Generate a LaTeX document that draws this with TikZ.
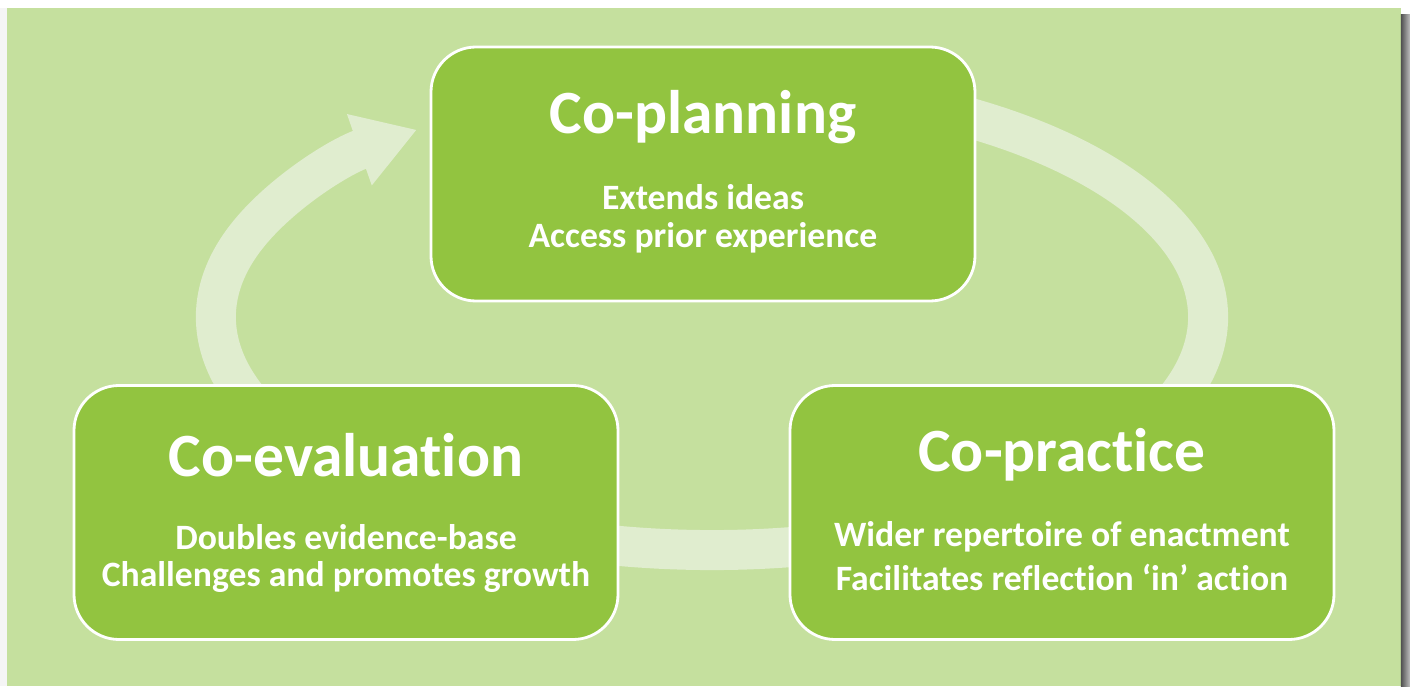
\documentclass[tikz,border=0pt]{standalone}
\usepackage{fontspec}
\setmainfont{Carlito}[Ligatures={NoCommon}]
\usetikzlibrary{arrows.meta}

\definecolor{leaf}{RGB}{146,196,64}
\definecolor{meadow}{RGB}{197,224,158}
\definecolor{mist}{RGB}{224,237,207}

\begin{document}
\begin{tikzpicture}[%
      phase/.style={draw=white, line width=0.8pt, fill=leaf, rounded corners=0.45cm,
                    minimum width=5.44cm, minimum height=2.54cm},
      title/.style={text=white, font=\bfseries\fontsize{17.5}{19}\selectfont},
      point/.style={text=white, font=\bfseries\fontsize{10.15}{12}\selectfont},
      ring/.style={color=mist, line width=0.4cm, -{Triangle[width=0.71cm,length=0.61cm]}},
      ]
      \useasboundingbox (0,0) rectangle (14.10,6.86);
      \fill [white] (0,0) rectangle (14.10,6.86);
      \fill [black!4] (0,0) rectangle (0.07,6.78);
      \fill [meadow] (0.07,0) rectangle (14.01,6.78);
      \shade [left color=black!68, right color=black!25] (14.01,0) rectangle (14.10,6.72);

      % cycle behind the three phases
      \coordinate (hub) at (7.12,3.69);
      \draw [ring] (hub) ++(70:4.96 and 2.33)
            arc [start angle=70, end angle=-233.5, x radius=4.96, y radius=2.33];

      \node [phase] (plan) at (7.03,5.12) {};
      \node [phase] (eval) at (3.46,1.735) {};
      \node [phase] (prac) at (10.62,1.735) {};

      \node [title] (plan-t) at (7.03,5.69) {Co-planning};
      \node [point] (plan-a) at (7.03,4.89) {Extends ideas};
      \node [point] (plan-b) at (7.03,4.48) {Access prior experience};

      \node [title] (eval-t) at (3.46,2.31) {Co-evaluation};
      \node [point] (eval-a) at (3.46,1.49) {Doubles evidence-base};
      \node [point] (eval-b) at (3.46,1.09) {Challenges and promotes growth};

      \node [title] (prac-t) at (10.62,2.31) {Co-practice};
      \node [point] (prac-a) at (10.62,1.49) {Wider repertoire of enactment};
      \node [point] (prac-b) at (10.62,1.09) {Facilitates reflection ‘in’ action};
\end{tikzpicture}
\end{document}
